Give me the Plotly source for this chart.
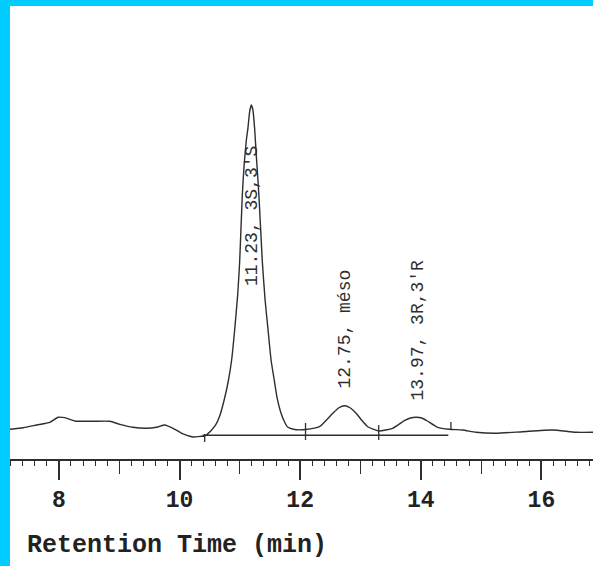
import plotly.graph_objects as go

# Chromatogram trace (retention time in min, detector signal in arbitrary units)
time_min = [7.189, 7.409, 7.631, 7.851, 7.988, 8.099, 8.265, 8.568, 8.844, 9.010,
            9.225, 9.452, 9.618, 9.755, 9.892, 10.058, 10.224, 10.363, 10.417, 10.517,
            10.599, 10.666, 10.732, 10.806, 10.864, 10.914, 10.964, 10.997, 11.041, 11.071,
            11.108, 11.134, 11.162, 11.190, 11.217, 11.245, 11.278, 11.316, 11.373, 11.419,
            11.465, 11.518, 11.565, 11.618, 11.675, 11.742, 11.791, 11.907, 12.089, 12.321,
            12.541, 12.636, 12.735, 12.834, 12.929, 13.017, 13.121, 13.303, 13.535, 13.728,
            13.828, 13.927, 14.026, 14.109, 14.280, 14.474, 14.694, 14.916, 15.247, 15.687,
            16.184, 16.571, 16.856]
signal = [6.76, 7.11, 7.71, 8.30, 9.41, 9.32, 8.59, 8.52, 8.52, 7.86,
          7.20, 6.98, 7.20, 7.71, 6.98, 5.73, 5.07, 5.22, 5.29, 6.39,
          7.71, 9.69, 12.78, 17.18, 22.03, 28.63, 36.34, 43.61, 58.37, 64.98,
          70.48, 73.06, 76.65, 78.19, 77.09, 73.06, 66.08, 58.37, 43.68, 35.24,
          29.07, 22.03, 18.06, 13.66, 10.64, 8.37, 7.27, 6.72, 6.72, 7.33,
          10.29, 11.45, 11.96, 11.45, 10.29, 8.81, 7.33, 6.39, 6.98, 8.66,
          9.25, 9.41, 9.19, 8.59, 7.20, 6.76, 6.61, 6.10, 5.88, 6.23,
          6.61, 6.10, 6.10]

# Integration baseline
baseline_start = 10.384
baseline_end = 14.457
baseline_level = 5.44

# Integration event marks
event_times = [10.417, 12.089, 13.303, 14.50]
event_top = [5.73, 8.15, 7.71, 8.37]
event_bottom = [3.96, 4.41, 4.41, 6.61]

# Peak labels
peak_times = [11.20, 12.74, 13.96]
peak_label_level = [53.7, 28.9, 28.6]
peak_labels = ["11.23, 3S,3'S", "12.75, méso", "13.97, 3R,3'R"]

x_range = [7.189, 16.856]
y_range = [-23.35, 100.0]

ink = "#2e2e2e"

fig = go.Figure()

fig.add_trace(go.Scatter(x=time_min, y=signal, mode="lines",
                         line=dict(color=ink, width=1.4, shape="spline", smoothing=0.5),
                         hoverinfo="skip", showlegend=False))

fig.add_trace(go.Scatter(x=[baseline_start, baseline_end], y=[baseline_level, baseline_level],
                         mode="lines", line=dict(color=ink, width=1.4),
                         hoverinfo="skip", showlegend=False))

ex, ey = [], []
for t, top, bot in zip(event_times, event_top, event_bottom):
    ex += [t, t, None]
    ey += [bot, top, None]
fig.add_trace(go.Scatter(x=ex, y=ey, mode="lines", line=dict(color=ink, width=1.3),
                         hoverinfo="skip", showlegend=False))

# invisible trace to activate the secondary tick axis
fig.add_trace(go.Scatter(x=x_range, y=[None, None], xaxis="x2", mode="lines",
                         hoverinfo="skip", showlegend=False))

for t, lv, txt in zip(peak_times, peak_label_level, peak_labels):
    fig.add_annotation(x=t, y=lv, text=txt, textangle=-90, showarrow=False,
                       font=dict(family="Liberation Mono", size=18, color=ink))

fig.add_annotation(xref="paper", yref="paper", x=0.0257, y=0.0375,
                   xanchor="left", yanchor="middle", showarrow=False,
                   text="<b>Retention Time (min)</b>",
                   font=dict(family="Liberation Mono", size=25, color="#222222"))

axis_pos = 106 / 560

fig.update_layout(
    width=593, height=566,
    margin=dict(l=10, r=0, t=6, b=0),
    paper_bgcolor="#00CCFF",
    plot_bgcolor="white",
    showlegend=False,
    xaxis=dict(range=x_range, anchor="free", position=axis_pos,
               showline=True, linecolor=ink, linewidth=1.5,
               ticks="outside", ticklen=19, tickwidth=1.5, tickcolor=ink,
               tick0=0, dtick=2, ticklabelstandoff=0,
               tickfont=dict(family="Liberation Mono", size=23, color="#222222",
                             weight="bold"),
               minor=dict(ticks="outside", dtick=0.2, tick0=0, ticklen=5,
                          tickwidth=1.2, tickcolor=ink, showgrid=False),
               showgrid=False, zeroline=False, fixedrange=True),
    xaxis2=dict(range=x_range, overlaying="x", anchor="free", position=axis_pos,
                showline=False, ticks="outside", ticklen=13, tickwidth=1.4,
                tickcolor=ink, tick0=0, dtick=1, showticklabels=False,
                showgrid=False, zeroline=False),
    yaxis=dict(range=y_range, visible=False, showgrid=False, zeroline=False),
)

fig.write_html("out.html", config={"displayModeBar": False},
               post_script="document.body.style.margin='0';"
                           "document.body.style.overflow='hidden';")
